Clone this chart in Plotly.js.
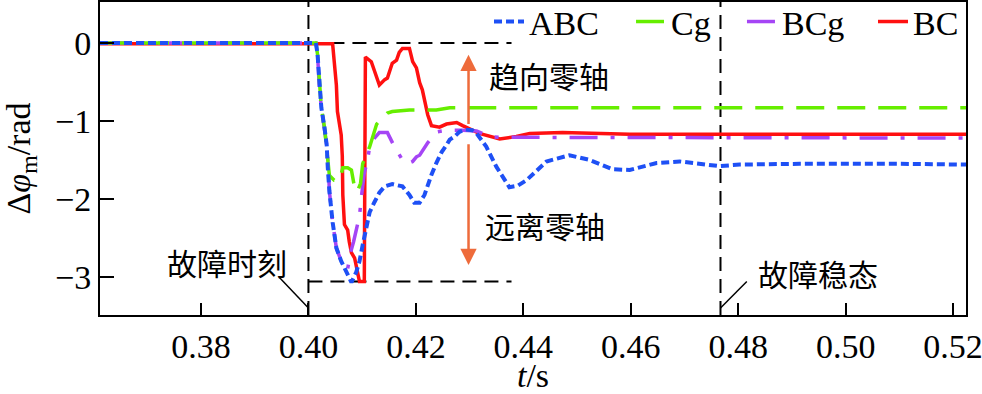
<!DOCTYPE html>
<html>
<head>
<meta charset="utf-8">
<script src="https://cdn.plot.ly/plotly-3.0.1.min.js"></script>
<style>html,body{margin:0;padding:0;background:#fff;}#chart{width:982px;height:394px;}</style>
</head>
<body>
<div id="chart"></div>
<script>
// ---- data ----
const seriesNames = ["ABC", "Cg", "BCg", "BC"];

const tABC = [0.3612,0.4000,0.4014,0.4017,0.4020,0.4024,0.4030,0.4034,0.4036,0.4039,0.4045,0.4052,0.4061,0.4071,0.4080,0.4089,0.4095,0.4101,0.4108,0.4114,0.4123,0.4132,0.4142,0.4156,0.4175,0.4188,0.4197,0.4207,0.4216,0.4223,0.4229,0.4238,0.4248,0.4257,0.4263,0.4272,0.4281,0.4291,0.4305,0.4313,0.4331,0.4350,0.4361,0.4374,0.4390,0.4406,0.4443,0.4486,0.4523,0.4566,0.4598,0.4648,0.4691,0.4728,0.4765,0.4803,0.4914,0.5101,0.5224];
const phiABC = [0,0,0,-0.15,-0.54,-0.83,-1.09,-1.31,-1.60,-1.90,-2.30,-2.63,-2.80,-2.94,-3.07,-2.94,-2.80,-2.59,-2.37,-2.17,-2.04,-1.92,-1.84,-1.81,-1.84,-1.95,-2.05,-2.05,-1.95,-1.80,-1.69,-1.54,-1.40,-1.31,-1.24,-1.20,-1.14,-1.11,-1.12,-1.16,-1.33,-1.59,-1.71,-1.85,-1.83,-1.76,-1.52,-1.44,-1.50,-1.62,-1.63,-1.54,-1.52,-1.55,-1.58,-1.56,-1.55,-1.55,-1.56];

const tCg = [0.3612,0.4000,0.4014,0.4017,0.4020,0.4024,0.4030,0.4035,0.4039,0.4048,0.4058,0.4064,0.4073,0.4080,0.4086,0.4091,0.4097,0.4101,0.4108,0.4114,0.4127,0.4138,0.4147,0.4156,0.4188,0.4238,0.4263,0.5224];
const phiCg = [0,0,0,-0.15,-0.50,-0.83,-1.09,-1.45,-1.70,-1.76,-1.76,-1.60,-1.60,-1.63,-1.86,-1.91,-1.80,-1.55,-1.44,-1.33,-1.04,-0.96,-0.90,-0.88,-0.86,-0.86,-0.83,-0.83];

const tBCg = [0.3612,0.4000,0.4014,0.4017,0.4020,0.4024,0.4030,0.4034,0.4037,0.4039,0.4045,0.4052,0.4061,0.4067,0.4073,0.4078,0.4084,0.4089,0.4095,0.4099,0.4104,0.4110,0.4114,0.4123,0.4132,0.4147,0.4160,0.4175,0.4184,0.4194,0.4201,0.4207,0.4222,0.4240,0.4257,0.4287,0.4313,0.4337,0.4356,0.5224];
const phiBCg = [0,0,0,-0.15,-0.54,-0.83,-1.09,-1.31,-1.60,-1.90,-2.30,-2.63,-2.80,-2.87,-2.90,-2.70,-2.55,-2.38,-2.22,-1.95,-1.67,-1.50,-1.33,-1.22,-1.15,-1.15,-1.33,-1.50,-1.55,-1.52,-1.46,-1.44,-1.28,-1.14,-1.12,-1.12,-1.13,-1.20,-1.21,-1.22];

const tBC = [0.3612,0.4045,0.4048,0.4052,0.4054,0.4058,0.4061,0.4063,0.4064,0.4067,0.4073,0.4076,0.4080,0.4086,0.4089,0.4091,0.4095,0.4104,0.4106,0.4117,0.4127,0.4132,0.4142,0.4147,0.4156,0.4164,0.4169,0.4175,0.4188,0.4194,0.4201,0.4207,0.4212,0.4216,0.4222,0.4229,0.4244,0.4257,0.4276,0.4287,0.4300,0.4318,0.4356,0.4387,0.4412,0.4473,0.4598,0.5224];
const phiBC = [-0.01,-0.01,-0.24,-0.54,-0.88,-1.05,-1.18,-1.45,-1.95,-2.33,-2.40,-2.55,-2.69,-2.76,-2.85,-2.94,-3.06,-3.06,-0.18,-0.24,-0.45,-0.54,-0.47,-0.45,-0.26,-0.22,-0.12,-0.07,-0.07,-0.24,-0.32,-0.51,-0.60,-0.75,-0.92,-1.06,-1.08,-1.04,-1.02,-1.06,-1.10,-1.16,-1.23,-1.20,-1.16,-1.15,-1.17,-1.17];

const xTickVals = [0.38,0.40,0.42,0.44,0.46,0.48,0.50,0.52];
const xTickText = ["0.38","0.40","0.42","0.44","0.46","0.48","0.50","0.52"];
const yTickVals = [-3,-2,-1,0];
const yTickText = ["\u22123","\u22122","\u22121","0"];

const faultTime = 0.400;
const steadyTime = 0.4767;
const boxEnd = 0.4378;
const boxBottom = -3.06;

const labelFault = "故障时刻";
const labelSteady = "故障稳态";
const labelToward = "趋向零轴";
const labelAway = "远离零轴";

// ---- chart ----
const serif = '"Liberation Serif", "Times New Roman", Times, serif';
const cjk = '"Noto Sans CJK SC", sans-serif';
const orange = "#EE6B3B";

const traces = [
  {x:tBC, y:phiBC, name:seriesNames[3], legend:"legend4", mode:"lines", line:{color:"#FF1010", width:3.5}},
  {x:tBCg, y:phiBCg, name:seriesNames[2], legend:"legend3", mode:"lines", line:{color:"#A545F5", width:3.5, dash:"28px,13px,4px,13px"}},
  {x:tCg, y:phiCg, name:seriesNames[1], legend:"legend2", mode:"lines", line:{color:"#66EE00", width:3.5, dash:"28px,13px"}},
  {x:tABC, y:phiABC, name:seriesNames[0], legend:"legend", mode:"lines", line:{color:"#1E50F5", width:4, dash:"8px,4px"}}
];

const dashBlack = {color:"#000", width:2, dash:"14px,8px"};
const shapes = [
  {type:"line", xref:"x", yref:"paper", x0:faultTime, x1:faultTime, y0:0, y1:1, line:dashBlack, layer:"below"},
  {type:"line", xref:"x", yref:"paper", x0:steadyTime, x1:steadyTime, y0:0, y1:1, line:dashBlack, layer:"below"},
  {type:"line", xref:"x", yref:"y", x0:faultTime, x1:boxEnd, y0:0, y1:0, line:dashBlack, layer:"below"},
  {type:"line", xref:"x", yref:"y", x0:faultTime, x1:boxEnd, y0:boxBottom, y1:boxBottom, line:dashBlack, layer:"below"},
  {type:"line", xref:"x", yref:"y", x0:0.3946, y0:-3.01, x1:faultTime, y1:-3.40, line:{color:"#000", width:1.5}},
  {type:"line", xref:"x", yref:"y", x0:0.4816, y0:-3.06, x1:steadyTime, y1:-3.40, line:{color:"#000", width:1.5}}
];

const annotations = [
  {x:0.3849, y:-2.81, xref:"x", yref:"y", text:labelFault, showarrow:false, font:{family:cjk, size:30, color:"#000"}},
  {x:0.4948, y:-2.95, xref:"x", yref:"y", text:labelSteady, showarrow:false, font:{family:cjk, size:30, color:"#000"}},
  {x:0.4447, y:-0.41, xref:"x", yref:"y", text:labelToward, showarrow:false, font:{family:cjk, size:30, color:"#000"}},
  {x:0.4441, y:-2.33, xref:"x", yref:"y", text:labelAway, showarrow:false, font:{family:cjk, size:30, color:"#000"}},
  {x:0.4298, y:-0.15, ax:0.4298, ay:-1.06, xref:"x", yref:"y", axref:"x", ayref:"y", text:"", showarrow:true, arrowhead:2, arrowsize:1.3, arrowwidth:2.5, arrowcolor:orange},
  {x:0.4298, y:-2.85, ax:0.4298, ay:-1.28, xref:"x", yref:"y", axref:"x", ayref:"y", text:"", showarrow:true, arrowhead:2, arrowsize:1.3, arrowwidth:2.5, arrowcolor:orange}
];

function legendAt(xp) {
  return {orientation:"h", x:xp, xanchor:"left", y:1.029, yanchor:"top",
          bgcolor:"rgba(0,0,0,0)", borderwidth:0,
          font:{family:serif, size:34, color:"#000"}, itemwidth:30};
}

const layout = {
  width:982, height:394,
  margin:{l:100, r:16, t:2, b:79, pad:0, autoexpand:false},
  paper_bgcolor:"#fff", plot_bgcolor:"#fff",
  showlegend:true,
  legend:legendAt(0.4492),
  legend2:legendAt(0.6132),
  legend3:legendAt(0.7413),
  legend4:legendAt(0.8926),
  xaxis:{range:[0.3612,0.5224], tickvals:xTickVals, ticktext:xTickText, ticks:"inside", ticklen:12, tickwidth:2, tickcolor:"#000",
         showline:true, linecolor:"#000", linewidth:2, mirror:true, showgrid:false, zeroline:false, automargin:false,
         ticklabeloverflow:"allow",
         tickfont:{family:serif, size:34, color:"#000"},
         title:{text:"<i>t</i>/s", font:{family:serif, size:34, color:"#000"}, standoff:10}},
  yaxis:{range:[-3.49,0.526], tickvals:yTickVals, ticktext:yTickText, ticks:"inside", ticklen:14, tickwidth:2, tickcolor:"#000",
         showline:true, linecolor:"#000", linewidth:2, mirror:true, showgrid:false, zeroline:false, automargin:false,
         tickfont:{family:serif, size:34, color:"#000"},
         title:{text:"Δ<i>φ</i><sub>m</sub>/rad", font:{family:serif, size:34, color:"#000"}, standoff:19}},
  shapes:shapes,
  annotations:annotations
};

Plotly.newPlot("chart", traces, layout, {staticPlot:true, displayModeBar:false});
</script>
</body>
</html>
